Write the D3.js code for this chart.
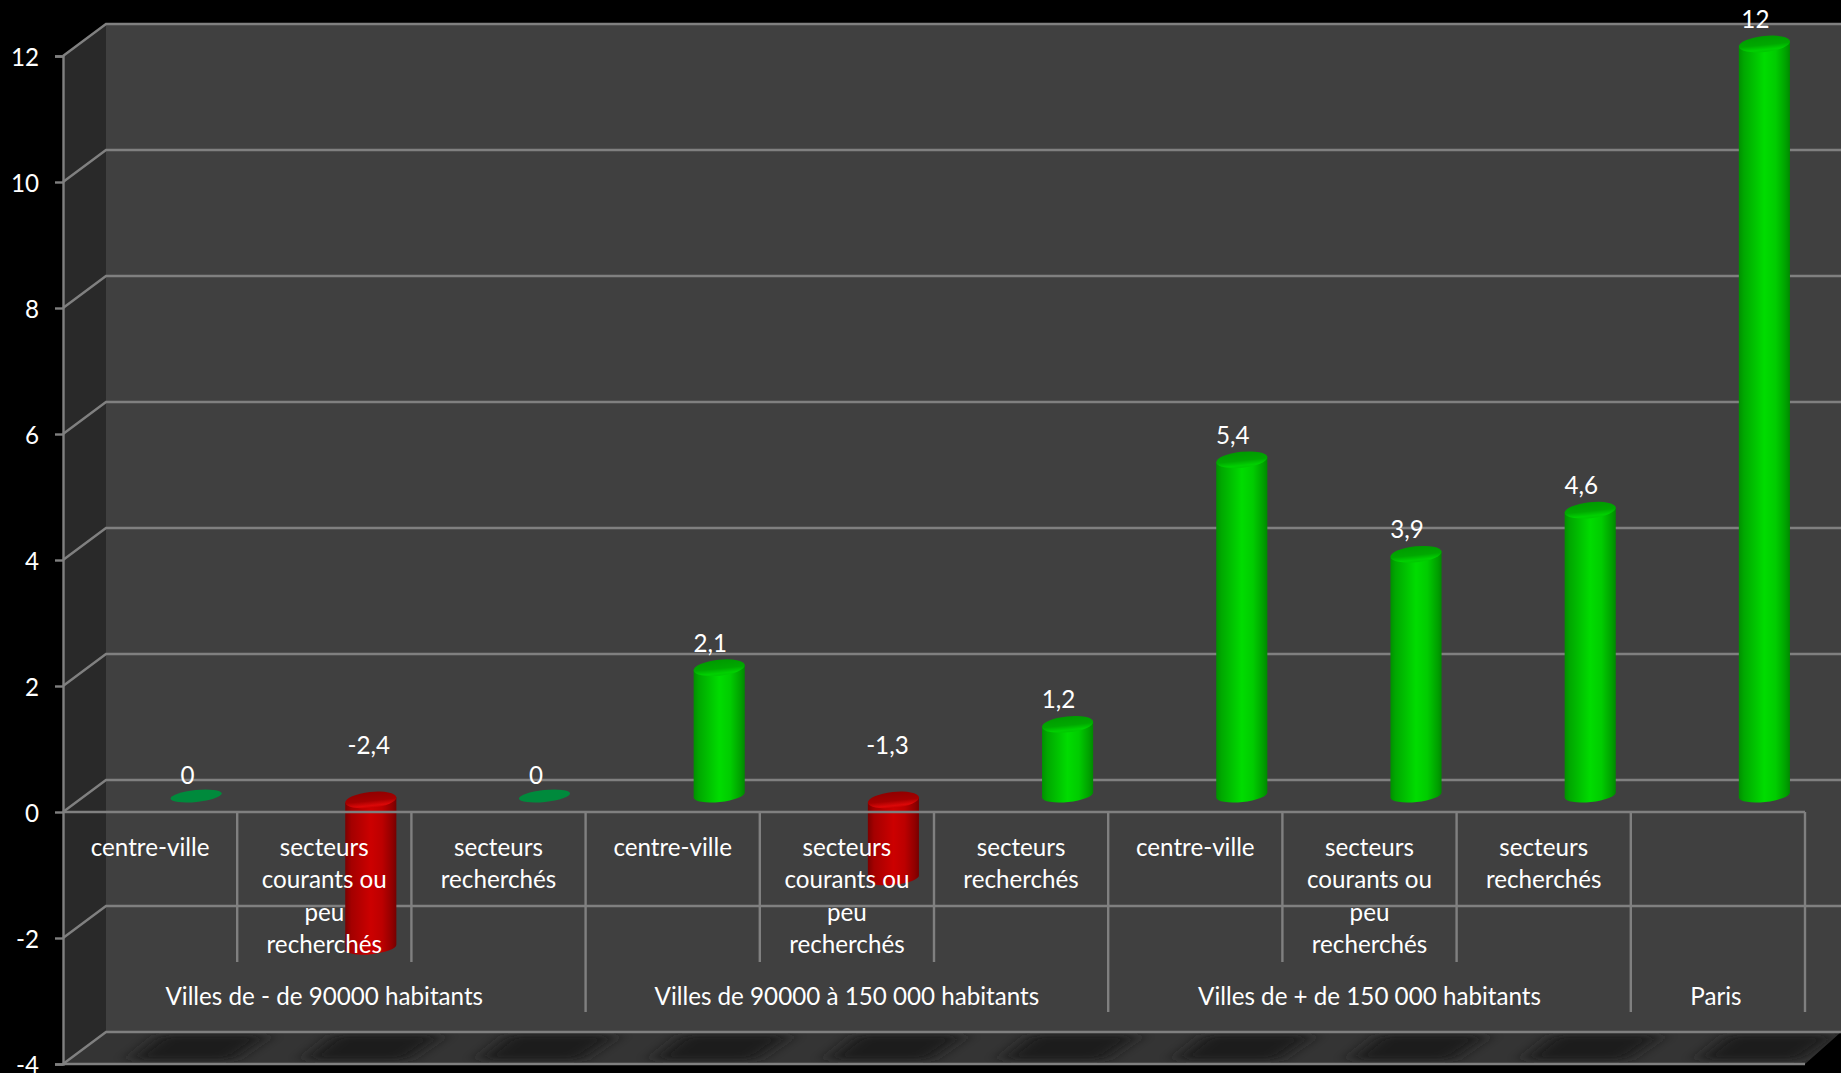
<!DOCTYPE html>
<html><head><meta charset="utf-8">
<script src="https://cdn.jsdelivr.net/npm/d3@7"></script>
<style>html,body{margin:0;background:#000;overflow:hidden}svg{display:block}text{font-family:Lato,"Noto Sans",sans-serif;fill:#fff}</style>
</head><body><svg id="c" width="1841" height="1073"></svg>
<script>
const categories=["centre-ville","secteurs|courants ou|peu|recherchés","secteurs|recherchés","centre-ville","secteurs|courants ou|peu|recherchés","secteurs|recherchés","centre-ville","secteurs|courants ou|peu|recherchés","secteurs|recherchés",""];
const values=[0,-2.4,0,2.1,-1.3,1.2,5.4,3.9,4.6,12];
const valueLabels=["0","-2,4","0","2,1","-1,3","1,2","5,4","3,9","4,6","12"];
const groups=["Villes de - de 90000 habitants","Villes de 90000 à 150 000 habitants","Villes de + de 150 000 habitants","Paris"];
const groupSizes=[3,3,3,1];
const yTicks=[-4,-2,0,2,4,6,8,10,12];

const W=1841,H=1073,dx=43,dy=32,FS=24.2;
const svg=d3.select("#c");
const y=d3.scaleLinear().domain([-4,12]).range([1064,56]);
const x=d3.scaleBand().domain(d3.range(values.length)).range([63,1805]);
const band=x.bandwidth();
const defs=svg.append("defs");
function grad(id,stops,vertical){const g=defs.append("linearGradient").attr("id",id).attr("x1",0).attr("x2",vertical?0:1).attr("y1",0).attr("y2",vertical?1:0);
 stops.forEach(s=>g.append("stop").attr("offset",s[0]).attr("stop-color",s[1]));}
grad("gBody",[[0,"#009000"],[.1,"#00a800"],[.5,"#00dc00"],[.72,"#00cc00"],[.92,"#00a000"],[1,"#008a00"]]);
grad("rBody",[[0,"#7c0000"],[.12,"#a40000"],[.5,"#cc0000"],[.72,"#bc0000"],[.92,"#900000"],[1,"#760000"]]);
grad("gCap",[[0,"#009a00"],[.55,"#00a800"],[.85,"#00d000"],[1,"#00c800"]],true);
grad("rCap",[[0,"#900000"],[.55,"#a40000"],[.85,"#dc0808"],[1,"#c40000"]],true);
const soft=defs.append("filter").attr("id","blur").attr("x","-30%").attr("y","-60%").attr("width","160%").attr("height","220%");
soft.append("feGaussianBlur").attr("stdDeviation","10 3");

// walls & floor
const x0=x.range()[0],x1=x.range()[1];
const floorPath=`M${x0},${y(-4)}L${x0+dx},${y(-4)-dy}L${W},${y(-4)-dy}L${x1},${y(-4)}Z`;
svg.append("rect").attr("x",x0+dx).attr("y",y(12)-dy).attr("width",W-x0-dx).attr("height",y(-4)-y(12)).attr("fill","#404040");
svg.append("path").attr("d",`M${x0},${y(12)}L${x0+dx},${y(12)-dy}L${x0+dx},${y(-4)-dy}L${x0},${y(-4)}Z`).attr("fill","#292929");
svg.append("path").attr("d",floorPath).attr("fill","#343434");
// floor shadows, clipped to the floor
defs.append("clipPath").attr("id","floor").append("path").attr("d",floorPath);
svg.append("g").attr("clip-path","url(#floor)").selectAll("path").data(values).join("path")
 .attr("filter","url(#blur)").attr("fill","#1a1a1a")
 .attr("d",(d,i)=>{const c=x(i)+band/2+46,t=y(-4)-dy+3,b=y(-4)-4;return `M${c-35},${t}L${c+72},${t}L${c+36},${b}L${c-66},${b}Z`;});
// gridlines on walls
const line="#808080";
const grid=svg.append("g").attr("stroke",line).attr("stroke-width",2.4).attr("fill","none");
yTicks.forEach(t=>{const Y=y(t);
 grid.append("path").attr("d",`M${x0},${Y}L${x0+dx},${Y-dy}L${W},${Y-dy}`);});

// bars
const rx=25.7,rot=-6,sn=Math.sin(rot*Math.PI/180),cs=Math.cos(rot*Math.PI/180),ry=7;
const cx=i=>x(i)+band/2+46.5;
const gb=svg.append("g");
values.forEach((v,i)=>{
 const c=cx(i);
 if(v===0){gb.append("ellipse").attr("rx",rx).attr("ry",6).attr("transform",`translate(${c-.5},${y(0)-16}) rotate(${rot})`).attr("fill","#008a3c");return;}
 const top=v>0?y(v)-12:y(0)-12, bot=v>0?y(0)-17:y(v)-16;
 const pre=v>0?"g":"r";
 const ax=rx*cs,ay=rx*sn;
 gb.append("path").attr("fill",`url(#${pre}Body)`)
  .attr("d",`M${c-ax},${top-ay}L${c-ax},${bot-ay}A${rx},${ry} ${rot} 0 0 ${c+ax},${bot+ay}L${c+ax},${top+ay}Z`);
 gb.append("ellipse").attr("rx",rx).attr("ry",ry+1).attr("transform",`translate(${c},${top}) rotate(${rot})`).attr("fill",`url(#${pre}Cap)`);
});

// front axis baseline and separators
const ax=svg.append("g").attr("stroke",line).attr("stroke-width",2.4).attr("fill","none");
ax.append("line").attr("x1",x0).attr("x2",x1).attr("y1",y(0)).attr("y2",y(0));
ax.append("line").attr("x1",x0).attr("x2",x1).attr("y1",y(-4)).attr("y2",y(-4));
const lineInner=y(0)+150,lineGroup=y(0)+200;
const groupEdges=new Set(d3.cumsum(groupSizes));
d3.range(1,values.length+1).forEach(k=>{
 const X=k===values.length?x1:x(k);
 ax.append("line").attr("x1",X).attr("x2",X).attr("y1",y(0)).attr("y2",groupEdges.has(k)?lineGroup:lineInner);
});

// y axis
const yAxis=d3.axisLeft(y).tickValues(yTicks).tickSize(8).tickPadding(16).tickFormat(d=>String(d));
const ya=svg.append("g").attr("transform",`translate(${x0},0)`).call(yAxis);
ya.selectAll("path,line").attr("stroke",line).attr("stroke-width",2.4);
ya.selectAll("text").attr("font-size",FS).attr("fill","#fff").attr("dy",".38em").style("font-family","Lato");

// category labels
const cl=svg.append("g").attr("text-anchor","middle").attr("font-size",FS);
categories.forEach((c,i)=>{c.split("|").forEach((t,j)=>{
 cl.append("text").attr("x",x(i)+band/2).attr("y",y(0)+36+j*32.3+8).text(t);});});
let start=0;
groups.forEach((g,i)=>{const n=groupSizes[i];
 cl.append("text").attr("x",x(start)+band*n/2-(n===1?2:0)).attr("y",y(0)+192.5).text(g);start+=n;});
// value labels
const vl=svg.append("g").attr("text-anchor","middle").attr("font-size",FS);
values.forEach((v,i)=>{
 vl.append("text").attr("x",cx(i)-9+(v<0?(v<-2?7:3):0)).attr("y",(v<0?y(0)-66:y(v)-36)+8).text(valueLabels[i]);});
</script></body></html>
